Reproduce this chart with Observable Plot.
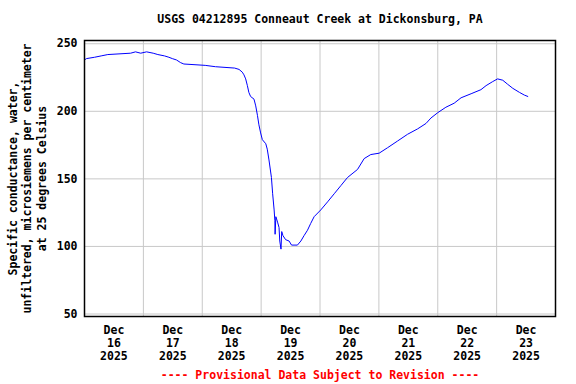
<!DOCTYPE html>
<html><head><meta charset="utf-8">
<script src="https://cdn.jsdelivr.net/npm/d3@7"></script>
<script src="https://cdn.jsdelivr.net/npm/@observablehq/plot@0.6"></script>
<style>body{margin:0;background:#fff}</style>
</head><body><div id="chart"></div>
<script>
const title = "USGS 04212895 Conneaut Creek at Dickonsburg, PA";
const yLabel = "Specific conductance, water,\nunfiltered, microsiemens per centimeter\nat 25 degrees Celsius";
const footer = "---- Provisional Data Subject to Revision ----";
const startDate = Date.UTC(2025, 11, 16);
// hours since Dec 16 2025 00:00
const hours = [0,0.8,4.1,6.8,9.5,18.8,20.8,22.9,25.3,28,29.9,32.6,34.4,35.8,37.5,39.2,40.5,49.2,53.4,61.2,63,64.3,65,65.7,66.4,67,67.7,69.1,69.8,70.5,71.1,71.8,72.5,73.9,74.5,75.2,76.2,76.7,77.3,77.6,77.7,78,78.7,79.3,79.6,80.1,80.4,80.9,82,83.4,84.4,86.8,88.2,89.5,90.9,92.2,93.6,96.3,99.1,101.8,104.5,107.2,111.3,114,116.7,120.1,123.5,127.6,131.7,135.8,139.2,141.2,144,147.3,150.7,153.5,157.6,161.6,163.7,166.4,168.4,170.5,172.5,174.6,177.3,179.3,180.7];
const values = [238,239,240,241,242,243,244,243,244,243,242,241,240,239,238,236,235,234,233,232,231,229,227,224,219,214,211,209,204,197,190,184,179,176,172,164,151,139,127,119,109,122,118,114,104,98,111,108,105,104,101,101,104,108,112,117,122,127,133,139,145,151,157,165,168,169,173,178,183,187,191,195,199,203,206,210,213,216,219,222,224,223,220,217,214,212,211];
const dayLabels = [16,17,18,19,20,21,22,23];
const gridDays = [17,18,19,20,21,22,23];
const yTicks = [50,100,150,200,250];

const data = hours.map((h, i) => ({date: new Date(startDate + h * 3600e3), value: values[i]}));
const noons = dayLabels.map(d => new Date(Date.UTC(2025, 11, d, 12)));
const midnights = gridDays.map(d => new Date(Date.UTC(2025, 11, d)));

const chart = Plot.plot({
  width: 576,
  height: 384,
  marginTop: 40,
  marginBottom: 68,
  marginLeft: 84,
  marginRight: 21,
  style: {fontFamily: "DejaVu Sans Mono", fontSize: "11.5px", fontWeight: "bold", color: "black", background: "white"},
  x: {type: "utc", domain: [new Date(startDate), new Date(Date.UTC(2025, 11, 24))], axis: null},
  y: {domain: [48.15, 252.4], axis: null},
  marks: [
    Plot.gridY(yTicks, {stroke: "#c8c8c8", strokeOpacity: 1}),
    Plot.gridX(midnights, {stroke: "#c8c8c8", strokeOpacity: 1}),
    Plot.line(data, {x: "date", y: "value", stroke: "#0000ff", strokeWidth: 1}),
    Plot.frame({stroke: "black", strokeWidth: 1.5}),
    Plot.axisY(yTicks, {tickSize: 0, tickPadding: 7, label: null}),
    Plot.text(noons, {x: d => d, text: (d, i) => "Dec\n" + dayLabels[i] + "\n2025", frameAnchor: "bottom", lineAnchor: "middle", dy: 26.7, lineHeight: 1.13, textAnchor: "middle"}),
    Plot.text([title], {frameAnchor: "top", lineAnchor: "middle", dy: -21}),
    Plot.text([footer], {frameAnchor: "bottom", lineAnchor: "middle", dy: 59, fill: "#ff0000"}),
    Plot.text([yLabel], {frameAnchor: "left", lineAnchor: "middle", dx: -58, rotate: -90, lineHeight: 1.28, textAnchor: "middle"})
  ]
});
document.getElementById("chart").appendChild(chart);
</script>
</body></html>
